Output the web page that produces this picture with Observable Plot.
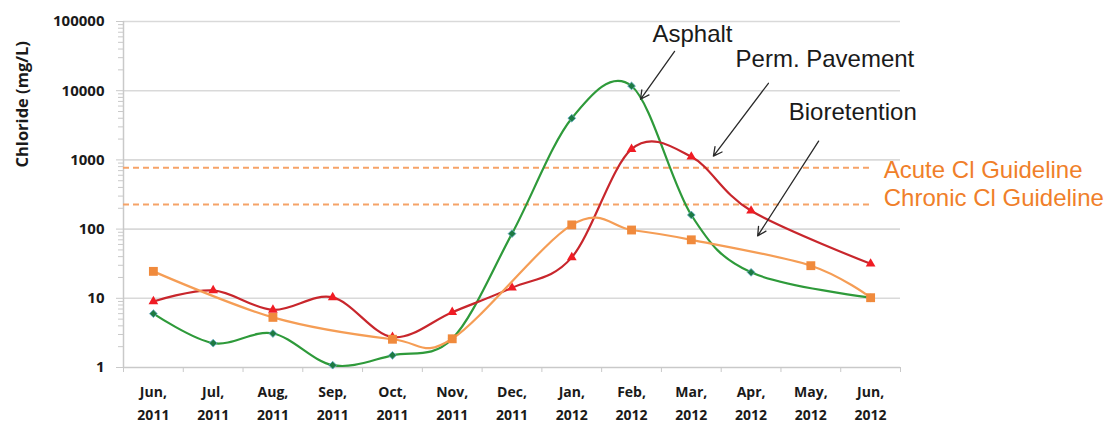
<!DOCTYPE html>
<html><head><meta charset="utf-8">
<script src="https://cdn.jsdelivr.net/npm/d3@7"></script>
<script src="https://cdn.jsdelivr.net/npm/@observablehq/plot@0.6"></script>
<style>html,body{margin:0;padding:0;background:#fff}#chart{width:1107px;height:424px}</style>
</head><body><div id="chart"></div>
<script>
// ---- data ----
const months = ["Jun","Jul","Aug","Sep","Oct","Nov","Dec","Jan","Feb","Mar","Apr","May","Jun"];
const years  = ["2011","2011","2011","2011","2011","2011","2011","2012","2012","2012","2012","2012","2012"];
const asphalt      = [6.0, 2.25, 3.1, 1.08, 1.5, 2.6, 86, 4000, 11700, 160, 23.7, null, 10.2];
const permPavement = [9.0, 13.0, 6.8, 10.3, 2.75, 6.3, 14.2, 39, 1430, 1110, 184, null, 31.5];
const bioretention = [24.5, null, 5.3, null, 2.56, 2.6, null, 115, 97, 70, null, 29.6, 10.2];
const decades = [1, 10, 100, 1000, 10000, 100000];
const guidelineNames  = ["Acute Cl Guideline", "Chronic Cl Guideline"];
const guidelineValues = [770, 226];
const guidelineLabelX = [12.22, 12.22];
const guidelineLabelY = [547, 216];
const annotationLabels = ["Asphalt", "Perm. Pavement", "Bioretention"];
const annotationX = [8.35, 9.74, 10.63];
const annotationY = [49800, 21700, 3740];
const arrowFromX = [8.72, 10.29, 11.13];
const arrowFromY = [36980, 12790, 1866];
const arrowToX   = [8.15, 9.37, 10.11];
const arrowToY   = [7520, 1135, 79.8];
const yLabel = "Chloride (mg/L)";

// ---- derived ----
const idx = months.map((_, i) => i);
const bounds = d3.range(-0.5, months.length, 1);
const minor = decades.slice(0, -1).flatMap(d => d3.range(2, 10).map(k => k * d));
const rows = vals => vals.map((v, i) => ({i, v})).filter(d => d.v != null);
const arrows = arrowFromX.map((x1, k) => ({x1, y1: arrowFromY[k], x2: arrowToX[k], y2: arrowToY[k]}));

const gray = "#c9c9c9";
const tickFont = "Open Sans, DejaVu Sans, sans-serif";
const annFont = "Liberation Sans, Arial, sans-serif";

const chart = Plot.plot({
  width: 1107, height: 424,
  marginLeft: 123, marginRight: 207, marginTop: 21, marginBottom: 57,
  style: {background: "#fff", fontFamily: tickFont, overflow: "visible"},
  x: {type: "linear", domain: [-0.5, 12.5], label: null},
  y: {type: "log", domain: [1, 100000], label: null},
  marks: [
    Plot.gridY(decades.slice(1), {stroke: "#d9d9d9", strokeOpacity: 1, strokeWidth: 1.6}),
    Plot.axisY(minor, {tickSize: 5, tickFormat: () => "", stroke: gray, label: null}),
    Plot.axisY(decades, {tickSize: 7, tickPadding: 12, tickFormat: d => String(d), stroke: gray,
      fontWeight: "bold", fontSize: 15, fontFamily: tickFont, fill: "#1a1a1a", label: null}),
    Plot.ruleX([-0.5], {stroke: gray, strokeWidth: 1.5}),
    Plot.ruleY([1], {stroke: gray, strokeWidth: 1.5}),
    Plot.axisX(bounds, {tickSize: 5, tickFormat: () => "", stroke: gray, label: null}),
    Plot.axisX(idx, {tickSize: 0, tickPadding: 20, tickFormat: i => months[i] + ",",
      fontWeight: "bold", fontSize: 14, fontFamily: tickFont, fill: "#1a1a1a", label: null}),
    Plot.axisX(idx, {tickSize: 0, tickPadding: 43, tickFormat: i => years[i],
      fontWeight: "bold", fontSize: 14, fontFamily: tickFont, fill: "#1a1a1a", label: null}),
    Plot.ruleY(guidelineValues, {x1: -0.5, x2: 12.0, stroke: "#f6a368", strokeWidth: 2, strokeDasharray: "6,4"}),
    Plot.line(rows(asphalt), {x: "i", y: "v", stroke: "#2e9a3a", strokeWidth: 2.2, curve: "cardinal", tension: 0}),
    Plot.dot(rows(asphalt), {x: "i", y: "v", symbol: "diamond2", r: 3.5, fill: "#1d7a42", stroke: "#62a9c6", strokeWidth: 0.8}),
    Plot.line(rows(permPavement), {x: "i", y: "v", stroke: "#c8262c", strokeWidth: 2.2, curve: "cardinal", tension: 0}),
    Plot.dot(rows(permPavement), {x: "i", y: "v", symbol: "triangle", r: 3.6, fill: "#f01c24"}),
    Plot.line(rows(bioretention), {x: "i", y: "v", stroke: "#f59d55", strokeWidth: 2.2, curve: "cardinal", tension: 0}),
    Plot.dot(rows(bioretention), {x: "i", y: "v", symbol: "square", r: 5, fill: "#f08a3c"}),
    Plot.arrow(arrows, {x1: "x1", y1: "y1", x2: "x2", y2: "y2", stroke: "#2a2a2a", strokeWidth: 1.3,
      headLength: 11, headAngle: 55, insetStart: 0, insetEnd: 0}),
    Plot.text(annotationLabels, {x: annotationX, y: annotationY, text: d => d, textAnchor: "start",
      lineAnchor: "bottom", fontSize: 24, fontFamily: annFont, fill: "#1a1a1a"}),
    Plot.text(guidelineNames, {x: guidelineLabelX, y: guidelineLabelY, text: d => d, textAnchor: "start",
      lineAnchor: "bottom", fontSize: 24, fontFamily: annFont, fill: "#f07f2a"}),
    Plot.text([yLabel], {frameAnchor: "left", dx: -101, dy: -27, rotate: -90, text: d => d,
      fontWeight: "bold", fontSize: 16.5, fontFamily: tickFont, fill: "#1a1a1a"})
  ]
});
d3.select(chart).selectAll("text").filter(function() { return this.textContent === yLabel; })
  .style("font-size", "16.5px").style("font-weight", "bold").style("font-family", tickFont);
document.getElementById("chart").appendChild(chart);
</script>
</body></html>
